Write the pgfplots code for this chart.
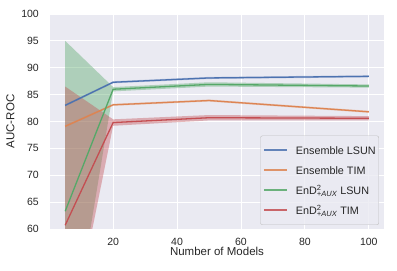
\documentclass[border=0pt]{standalone}
\usepackage{fontspec}
\setmainfont{Liberation Sans}
\usepackage{pgfplots}
\pgfplotsset{compat=1.18}
\definecolor{sbblue}{HTML}{4C72B0}
\definecolor{sborange}{HTML}{DD8452}
\definecolor{sbgreen}{HTML}{55A868}
\definecolor{sbred}{HTML}{C44E52}
\definecolor{sbbg}{HTML}{EAEAF2}
\definecolor{txt}{HTML}{262626}
\newcommand{\EnD}{EnD$^{\mbox{\fontsize{7.5}{8}\selectfont 2}}_{\mbox{\fontsize{7.5}{8}\selectfont\itshape +AUX}}$}
\begin{document}
\begin{tikzpicture}
\begin{axis}[
  width=334pt, height=215pt, scale only axis,
  xmin=0.25, xmax=104.75, ymin=60, ymax=100,
  xtick={20,40,60,80,100}, ytick={60,65,...,100},
  axis background/.style={fill=sbbg},
  axis line style={draw=none},
  grid=major, grid style={white, line width=0.9pt},
  major tick length=0pt,
  tick label style={font=\fontsize{10.5}{12}\selectfont, text=txt, inner sep=0pt},
  /pgf/number format/assume math mode=true,
  xticklabel style={anchor=base, yshift=-16.5pt},
  yticklabel style={anchor=east, xshift=-11pt},
  xlabel={Number of Models}, ylabel={AUC-ROC},
  label style={font=\fontsize{11.5}{13}\selectfont, text=txt, inner sep=0pt},
  xlabel style={at={(axis description cs:0.5,0)}, anchor=base, yshift=-26.5pt},
  ylabel style={at={(axis description cs:-0.1183,0.5)}, anchor=center},
  legend style={at={(axis description cs:0.985,0.0186)}, anchor=south east, fill=sbbg, fill opacity=0.8, text opacity=1,
    draw=lightgray, rounded corners=2pt, font=\fontsize{10.8}{12}\selectfont, text=txt,
    row sep=0pt, column sep=0pt, inner xsep=3pt, inner ysep=4.5pt,
    nodes={inner sep=0pt, text height=13.9pt, text depth=6.1pt}},
  /tikz/every even column/.append style={column sep=0pt},
  legend cell align=left,
  legend image code/.code={\draw[#1, line width=1.6pt, opacity=0.85] (0pt,0pt) -- (23pt,0pt); \path (31pt,0pt);},
]
% bands
\addplot[forget plot, draw=none, fill=sbgreen, fill opacity=0.4] coordinates {
 (5,95.0) (20,86.4) (50,87.3) (100,86.9) (100,86.3) (50,86.5) (20,85.6) (5,31.6)} -- cycle;
\addplot[forget plot, draw=none, fill=sbred, fill opacity=0.4] coordinates {
 (5,86.5) (20,80.4) (50,81.2) (100,81.0) (100,80.2) (50,80.2) (20,79.2) (5,34.9)} -- cycle;
\addplot[forget plot, draw=none, fill=sbblue, fill opacity=0.3] coordinates {
 (5,83.2) (20,87.5) (50,88.3) (100,88.6) (100,88.2) (50,87.9) (20,87.1) (5,82.8)} -- cycle;
\addplot[forget plot, draw=none, fill=sborange, fill opacity=0.3] coordinates {
 (5,79.3) (20,83.3) (50,84.1) (100,82.0) (100,81.6) (50,83.7) (20,82.9) (5,78.9)} -- cycle;
% lines
\addplot[sbblue, line width=1.3pt] coordinates {(5,83.0) (20,87.3) (50,88.1) (100,88.4)};
\addlegendentry{Ensemble LSUN}
\addplot[sborange, line width=1.3pt] coordinates {(5,79.1) (20,83.1) (50,83.9) (100,81.8)};
\addlegendentry{Ensemble TIM}
\addplot[sbgreen, line width=1.3pt] coordinates {(5,63.3) (20,86.0) (50,86.9) (100,86.6)};
\addlegendentry{\EnD{} LSUN}
\addplot[sbred, line width=1.3pt] coordinates {(5,60.7) (20,79.8) (50,80.7) (100,80.6)};
\addlegendentry{\EnD{} TIM}
\end{axis}
\path[use as bounding box] ([xshift=-50pt,yshift=-42pt]current axis.south west) rectangle ([xshift=13pt,yshift=14pt]current axis.north east);
\end{tikzpicture}
\end{document}
